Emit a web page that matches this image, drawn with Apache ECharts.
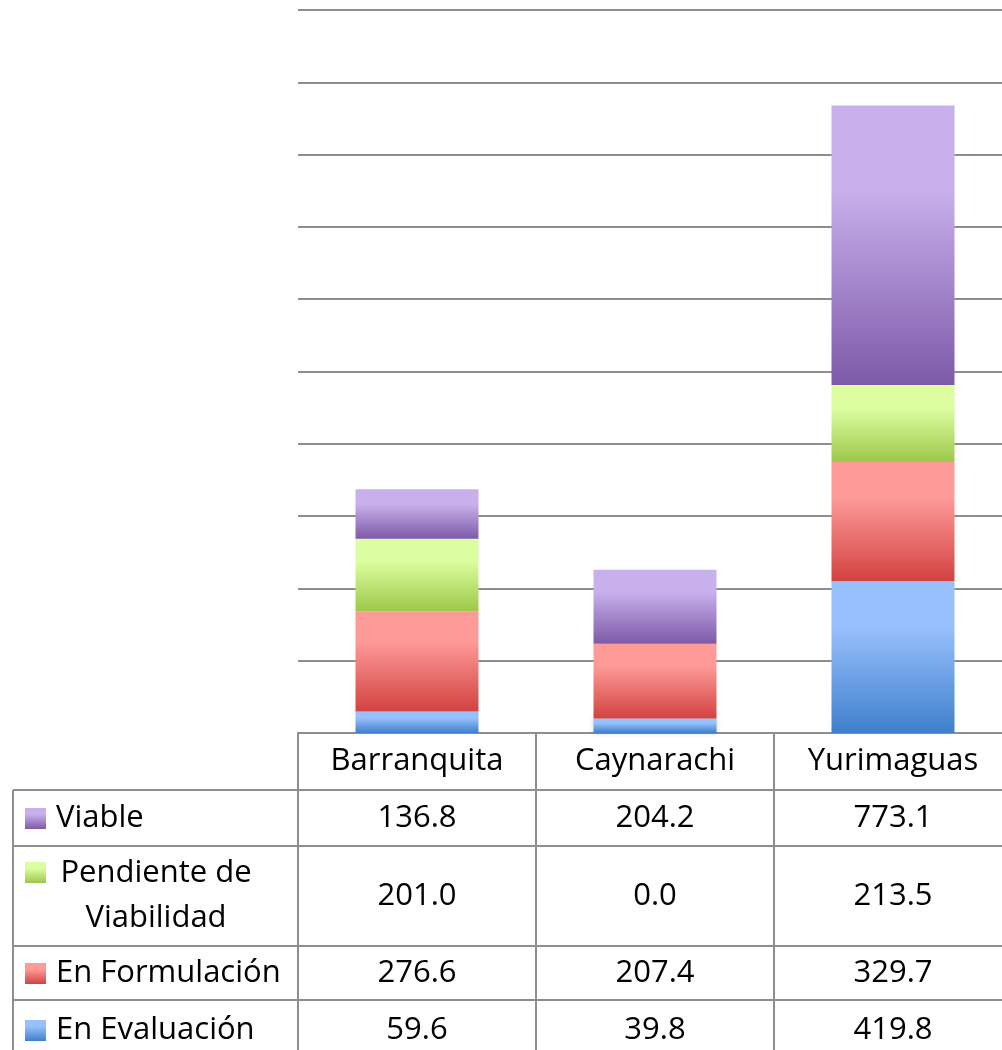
<!DOCTYPE html>
<html>
<head>
<meta charset="UTF-8">
<title>Proyectos por distrito</title>
<script src="https://cdn.jsdelivr.net/npm/echarts@6/dist/echarts.min.js"></script>
<style>
  html, body { margin: 0; padding: 0; background: #fff; }
  #main { width: 1002px; height: 1050px; }
</style>
</head>
<body>
<div id="main"></div>
<script>
// datos
var categorias = ['Barranquita', 'Caynarachi', 'Yurimaguas'];
var enEvaluacion = [59.6, 39.8, 419.8];
var enFormulacion = [276.6, 207.4, 329.7];
var pendienteViabilidad = [201.0, 0.0, 213.5];
var viable = [136.8, 204.2, 773.1];

// filas de la tabla (de arriba hacia abajo)
var filas = [
  { nombre: 'Viable', datos: viable, claro: '#c8b0ec', oscuro: '#7d5aa8' },
  { nombre: 'Pendiente de\nViabilidad', datos: pendienteViabilidad, claro: '#dcfea0', oscuro: '#9cc84a' },
  { nombre: 'En Formulación', datos: enFormulacion, claro: '#fe9a98', oscuro: '#d24240' },
  { nombre: 'En Evaluación', datos: enEvaluacion, claro: '#98c0fc', oscuro: '#3e80cc' }
];

var FUENTE = '"Open Sans", "Liberation Sans", sans-serif';
var GRIS = '#8e8e8e';

function degradado(claro, oscuro) {
  return new echarts.graphic.LinearGradient(0, 0, 0, 1, [
    { offset: 0, color: claro },
    { offset: 0.3, color: claro },
    { offset: 1, color: oscuro }
  ]);
}

var myChart = echarts.init(document.getElementById('main'));

// orden de apilado: de abajo hacia arriba
var apilado = filas.slice().reverse();
var series = [];
apilado.forEach(function (f) {
  series.push({
    name: f.nombre,
    type: 'bar',
    stack: 'total',
    barWidth: 123,
    data: f.datos,
    itemStyle: {
      color: degradado(f.claro, f.oscuro),
      shadowBlur: 5,
      shadowColor: 'rgba(0,0,0,0.18)'
    }
  });
});

var option = {
  animation: false,
  grid: { left: 298, width: 714, top: 10, height: 723, outerBoundsMode: 'none' },
  xAxis: {
    type: 'category',
    data: categorias,
    axisLine: { show: true, lineStyle: { color: GRIS, width: 2 } },
    axisTick: { show: false },
    axisLabel: { show: false }
  },
  yAxis: {
    type: 'value',
    min: 0,
    max: 2000,
    interval: 200,
    axisLine: { show: false },
    axisTick: { show: false },
    axisLabel: { show: false },
    splitLine: { lineStyle: { color: GRIS, width: 2 } }
  },
  series: series
};
myChart.setOption(option);

// tabla de datos bajo el grafico
var x0 = 298, colW = 238, tablaIzq = 13, tablaDer = x0 + colW * 3;
var yBase = 733;
var altos = [57, 56, 100, 54, 60]; // cabecera + 4 filas
var yFilas = [yBase];
for (var i = 0; i < altos.length; i++) yFilas.push(yFilas[i] + altos[i]);

var g = [];
function linea(x1, y1, x2, y2) {
  g.push({ type: 'line', shape: { x1: x1, y1: y1, x2: x2, y2: y2 },
    style: { stroke: GRIS, lineWidth: 2 }, z: 10 });
}
function texto(x, y, t, align) {
  g.push({ type: 'text', x: x, y: y, z: 11,
    style: { text: t, font: '31px ' + FUENTE, fill: '#000',
      align: align || 'center', verticalAlign: 'middle', lineHeight: 45 } });
}

// lineas verticales
for (var c = 0; c <= 3; c++) linea(x0 + colW * c, yBase, x0 + colW * c, 1050);
linea(tablaIzq, yFilas[1], tablaIzq, 1050);
// lineas horizontales
for (var r = 1; r < yFilas.length - 1; r++) linea(tablaIzq, yFilas[r], tablaDer, yFilas[r]);

// cabecera
categorias.forEach(function (cat, j) {
  var cx = myChart.convertToPixel({ xAxisIndex: 0 }, j);
  texto(cx, (yFilas[0] + yFilas[1]) / 2, cat);
});

// filas
filas.forEach(function (f, k) {
  var ya = yFilas[k + 1], yb = yFilas[k + 2];
  var cy = (ya + yb) / 2;
  var dosLineas = f.nombre.indexOf('\n') > 0;
  var marcaY = dosLineas ? ya + 16 : cy - 10;
  g.push({ type: 'rect', shape: { x: 25, y: marcaY, width: 21, height: 21 }, z: 11,
    style: { fill: degradado(f.claro, f.oscuro) } });
  if (dosLineas) {
    texto(156, cy, f.nombre, 'center');
  } else {
    texto(56, cy, f.nombre, 'left');
  }
  f.datos.forEach(function (v, j) {
    var cx = myChart.convertToPixel({ xAxisIndex: 0 }, j);
    texto(cx, cy, v.toFixed(1));
  });
});

myChart.setOption({ graphic: { elements: g } });
</script>
</body>
</html>
